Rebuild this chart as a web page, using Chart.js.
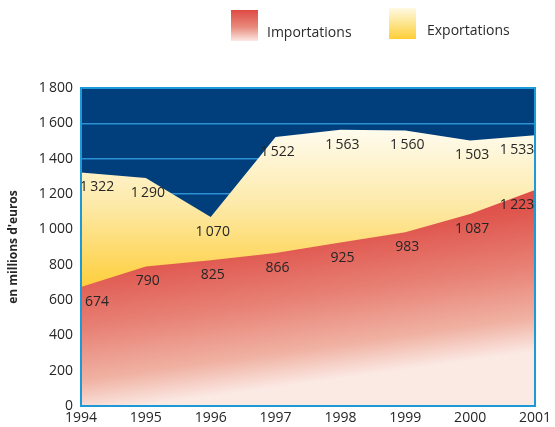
<!DOCTYPE html>
<html>
<head>
<meta charset="utf-8">
<script src="https://cdn.jsdelivr.net/npm/chart.js@4/dist/chart.umd.min.js"></script>
<style>
  body { margin: 0; background: #fff; }
  #wrap { position: relative; width: 555px; height: 427px; font-family: "Open Sans", sans-serif; }
  canvas { position: absolute; left: 0; top: 0; }
  .leg { position: absolute; font-size: 14px; color: #2b2b2b; }
  .sw { position: absolute; width: 27px; height: 31px; }
</style>
</head>
<body>
<div id="wrap">
  <canvas id="chart" width="555" height="427"></canvas>
  <div class="sw" style="left:231px;top:10px;background:linear-gradient(#de4a44,#e88a7c 55%,#fbe8e3);"></div>
  <div class="leg" style="left:267px;top:22px;">Importations</div>
  <div class="sw" style="left:389px;top:8px;background:linear-gradient(#fff9e3,#fde58e 50%,#ffcd36);"></div>
  <div class="leg" style="left:427px;top:20px;">Exportations</div>
</div>
<script>
// Data
const years = ['1994', '1995', '1996', '1997', '1998', '1999', '2000', '2001'];
const importations = [674, 790, 825, 866, 925, 983, 1087, 1223];
const exportations = [1322, 1290, 1070, 1522, 1563, 1560, 1503, 1533];
const yTicks = [0, 200, 400, 600, 800, 1000, 1200, 1400, 1600, 1800];

function fmt(v) {
  return String(v).replace(/\B(?=(\d{3})+(?!\d))/g, '\u2009');
}

// navy background behind the plot area
const plotBg = {
  id: 'plotBg',
  beforeDraw(chart) {
    const a = chart.chartArea, ctx = chart.ctx;
    ctx.save();
    ctx.fillStyle = '#003f7c';
    ctx.fillRect(a.left, a.top, a.right - a.left, a.bottom - a.top);
    ctx.restore();
  },
  afterDraw(chart) {
    const a = chart.chartArea, ctx = chart.ctx;
    ctx.save();
    ctx.strokeStyle = '#1c9ad8';
    ctx.lineWidth = 2;
    ctx.strokeRect(a.left, a.top, a.right - a.left, a.bottom - a.top);
    ctx.restore();
  }
};

// value labels under each point
const valueLabels = {
  id: 'valueLabels',
  afterDatasetsDraw(chart) {
    const ctx = chart.ctx;
    ctx.save();
    ctx.font = '14px "Open Sans", sans-serif';
    ctx.fillStyle = '#262626';
    ctx.textAlign = 'center';
    ctx.textBaseline = 'middle';
    chart.data.datasets.forEach((ds, i) => {
      const meta = chart.getDatasetMeta(i);
      meta.data.forEach((pt, j) => {
        let dx = 2;
        if (j === 0) dx = 16;
        if (j === ds.data.length - 1) dx = -18;
        ctx.fillText(fmt(ds.data[j]), pt.x + dx, pt.y + 15);
      });
    });
    ctx.restore();
  }
};

function importsFill(context) {
  const chart = context.chart;
  const a = chart.chartArea;
  if (!a) return '#e05048';
  const y = chart.scales.y;
  const g = chart.ctx.createLinearGradient(a.left, y.getPixelForValue(1200), a.left + 30, a.bottom + 4);
  g.addColorStop(0, '#d9363c');
  g.addColorStop(0.35, '#df554d');
  g.addColorStop(0.62, '#e88276');
  g.addColorStop(0.85, '#f0b2a3');
  g.addColorStop(1, '#fbe9e4');
  return g;
}

function exportsFill(context) {
  const chart = context.chart;
  const a = chart.chartArea;
  if (!a) return '#fde58e';
  const y = chart.scales.y;
  const g = chart.ctx.createLinearGradient(0, y.getPixelForValue(1600), 0, y.getPixelForValue(650));
  g.addColorStop(0, '#fffdf4');
  g.addColorStop(0.5, '#fde9a6');
  g.addColorStop(1, '#fecd36');
  return g;
}

new Chart(document.getElementById('chart'), {
  type: 'line',
  data: {
    labels: years,
    datasets: [
      {
        label: 'Importations',
        data: importations,
        backgroundColor: importsFill,
        borderWidth: 0,
        pointRadius: 0,
        fill: 'origin',
        tension: 0
      },
      {
        label: 'Exportations',
        data: exportations,
        backgroundColor: exportsFill,
        borderWidth: 0,
        pointRadius: 0,
        fill: 'origin',
        tension: 0
      }
    ]
  },
  options: {
    responsive: false,
    animation: false,
    layout: { padding: { top: 88, right: 17, left: 0, bottom: 0 } },
    plugins: {
      legend: { display: false },
      tooltip: { enabled: false }
    },
    scales: {
      x: {
        offset: false,
        grid: { display: false, drawTicks: false },
        border: { display: false },
        ticks: {
          color: '#262626',
          font: { family: 'Open Sans', size: 14 },
          padding: 4,
          maxRotation: 0,
          autoSkip: false
        },
        afterFit(scale) { scale.height = 21; }
      },
      y: {
        min: 0,
        max: 1800,
        afterBuildTicks(scale) { scale.ticks = yTicks.map(v => ({ value: v })); },
        grid: { color: '#2a8fd3', lineWidth: 1.5, drawTicks: false },
        border: { display: false },
        ticks: {
          color: '#262626',
          font: { family: 'Open Sans', size: 14 },
          padding: 8,
          callback: v => fmt(v)
        },
        title: {
          display: true,
          text: "en millions d'euros",
          color: '#262626',
          font: { family: 'Open Sans', size: 12, weight: 'bold' },
          padding: { top: 6, bottom: 0 }
        },
        afterFit(scale) { scale.width = 81; }
      }
    }
  },
  plugins: [plotBg, valueLabels]
});
</script>
</body>
</html>
